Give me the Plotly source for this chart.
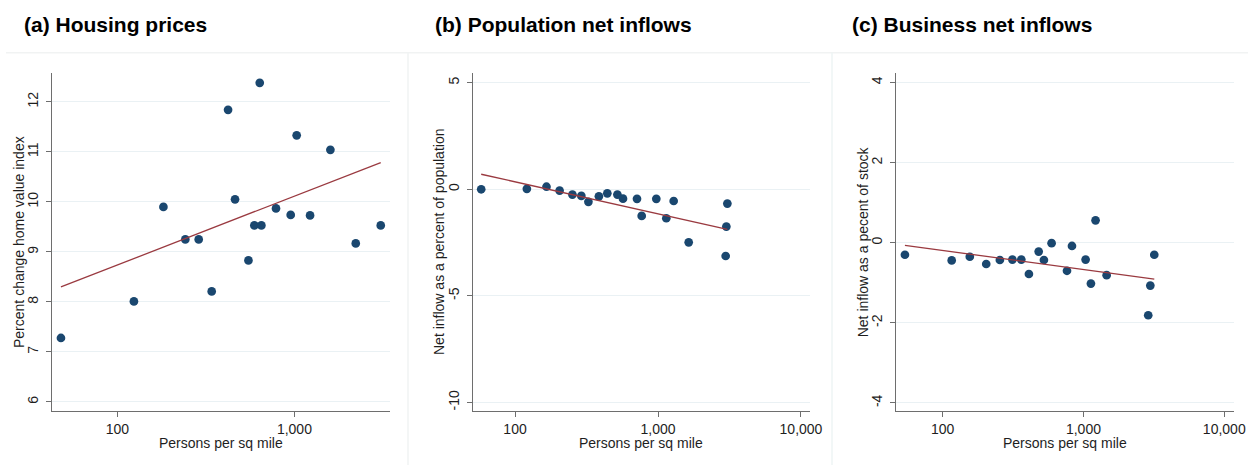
import numpy as np
import plotly.graph_objects as go

# ---------------- data ----------------
# (a) Housing prices
density_a = [48, 124, 182, 242, 288, 341, 422, 462, 550, 594, 651, 637, 787, 953, 1030, 1226, 1597, 2221, 3074]
price_a = [7.28, 8.01, 9.90, 9.25, 9.25, 8.21, 11.84, 10.05, 8.83, 9.53, 9.53, 12.38, 9.87, 9.74, 11.33, 9.73, 11.04, 9.17, 9.53]
fit_a = [5.984, 1.377]  # intercept, slope on log10(density)

# (b) Population net inflows
density_b = [58, 121, 166, 205, 252, 291, 326, 386, 442, 520, 569, 713, 769, 973, 1143, 1287, 1639, 3055, 3006, 2973]
pop_b = [0.0, 0.02, 0.12, -0.06, -0.25, -0.31, -0.59, -0.33, -0.19, -0.25, -0.44, -0.45, -1.25, -0.45, -1.36, -0.55, -2.49, -0.67, -1.75, -3.13]
fit_b = [3.35, -1.50]

# (c) Business net inflows
density_c = [54, 116, 156, 204, 255, 313, 362, 410, 481, 524, 594, 764, 829, 1036, 1130, 1219, 1461, 2984, 2884, 3184]
bus_c = [-0.30, -0.44, -0.35, -0.53, -0.43, -0.42, -0.42, -0.78, -0.22, -0.43, -0.01, -0.70, -0.08, -0.42, -1.02, 0.56, -0.81, -1.07, -1.81, -0.30]
fit_c = [0.762, -0.477]

panel_titles = ["(a) Housing prices", "(b) Population net inflows", "(c) Business net inflows"]
y_titles = ["Percent change home value index", "Net inflow as a percent of population", "Net inflow as a pecent of stock"]
x_title = "Persons per sq mile"
xtick_vals = [100, 1000, 10000]
xtick_text = ["100", "1,000", "10,000"]
ytick_vals = [[6, 7, 8, 9, 10, 11, 12], [-10, -5, 0, 5], [-4, -2, 0, 2, 4]]
ytick_text = [["6", "7", "8", "9", "10", "11", "12"], ["-10", "-5", "0", "5"], ["-4", "-2", "0", "2", "4"]]

# ---------------- style ----------------
W, H = 1248, 465
FONT = "Liberation Sans, Arial, Helvetica, sans-serif"
NAVY = "#1a476f"
MAROON = "#9a3a40"
GRID = "#eaf1f4"
AXIS = "#6e6e6e"
TXT = "#1e1e1e"

# plot area pixel boxes (left, right), shared top/bottom
boxes = [(51.7, 390.0), (472.7, 810.0), (896.0, 1234.0)]
top_px, bot_px = 73.3, 411.0
xranges = [[1.629, 3.540], [1.704, 4.063], [1.669, 4.069]]
yranges = [[5.82, 12.57], [-10.40, 5.44], [-4.20, 4.23]]
title_x = [22, 433, 850]
ytitle_x = [19, 439, 863.3]

datasets = [(density_a, price_a, fit_a), (density_b, pop_b, fit_b), (density_c, bus_c, fit_c)]

fig = go.Figure()
annotations = []
for i, (dx, dy, fit) in enumerate(datasets):
    n = "" if i == 0 else str(i + 1)
    xa, ya = "x" + n, "y" + n
    fig.add_trace(go.Scatter(x=dx, y=dy, mode="markers", xaxis=xa, yaxis=ya,
                             marker=dict(color=NAVY, size=8.7, line=dict(width=0)),
                             showlegend=False, hoverinfo="x+y"))
    lx = np.log10(np.array([min(dx), max(dx)], dtype=float))
    fy = fit[0] + fit[1] * lx
    fig.add_trace(go.Scatter(x=10 ** lx, y=fy, mode="lines", xaxis=xa, yaxis=ya,
                             line=dict(color=MAROON, width=1.3),
                             showlegend=False, hoverinfo="skip"))
    l, r = boxes[i]
    ntick = 2 if i == 0 else 3
    fig.layout["xaxis" + n] = dict(
        type="log", range=xranges[i], domain=[l / W, r / W], anchor=ya,
        tickvals=xtick_vals[:ntick], ticktext=xtick_text[:ntick],
        showgrid=False, zeroline=False, showline=True, linecolor=AXIS, linewidth=1.3,
        ticks="outside", ticklen=5, tickcolor=AXIS, tickwidth=1.1,
        tickfont=dict(family=FONT, size=14, color=TXT), automargin=False)
    fig.layout["yaxis" + n] = dict(
        range=yranges[i], domain=[1 - bot_px / H, 1 - top_px / H], anchor=xa,
        tickvals=ytick_vals[i], ticktext=ytick_text[i], tickangle=-90,
        ticklabelstandoff=2,
        showgrid=True, gridcolor=GRID, gridwidth=1.3, zeroline=False,
        showline=True, linecolor=AXIS, linewidth=1.3,
        ticks="outside", ticklen=5, tickcolor=AXIS, tickwidth=1.1,
        tickfont=dict(family=FONT, size=14, color=TXT), automargin=False)
    annotations.append(dict(text="<b>%s</b>" % panel_titles[i], x=title_x[i] / W, y=1 - 24 / H,
                            xref="paper", yref="paper", xanchor="left", yanchor="middle",
                            showarrow=False, font=dict(family=FONT, size=21, color="#000000")))
    annotations.append(dict(text=x_title, x=(l + r) / 2 / W, y=1 - 443 / H,
                            xref="paper", yref="paper", xanchor="center", yanchor="middle",
                            showarrow=False, font=dict(family=FONT, size=14, color=TXT)))
    annotations.append(dict(text=y_titles[i], x=ytitle_x[i] / W, y=1 - 242 / H, textangle=-90,
                            xref="paper", yref="paper", xanchor="center", yanchor="middle",
                            showarrow=False, font=dict(family=FONT, size=14, color=TXT)))

shapes = [
    dict(type="line", xref="paper", yref="paper", x0=6 / W, x1=1, y0=1 - 52.7 / H, y1=1 - 52.7 / H,
         line=dict(color="#f1f3f3", width=1.5), layer="below"),
    dict(type="line", xref="paper", yref="paper", x0=408 / W, x1=408 / W, y0=0, y1=1 - 52.7 / H,
         line=dict(color="#f1f3f3", width=1.5), layer="below"),
    dict(type="line", xref="paper", yref="paper", x0=832 / W, x1=832 / W, y0=0, y1=1 - 52.7 / H,
         line=dict(color="#eef5f5", width=1.5), layer="below"),
]

fig.update_layout(width=W, height=H, margin=dict(l=0, r=0, t=0, b=0),
                  paper_bgcolor="white", plot_bgcolor="white",
                  annotations=annotations, shapes=shapes,
                  font=dict(family=FONT, size=14, color=TXT))
fig.write_html("out.html", include_plotlyjs=True, config={"displayModeBar": False},
               post_script="document.body.style.margin='0';document.body.style.padding='0';")
